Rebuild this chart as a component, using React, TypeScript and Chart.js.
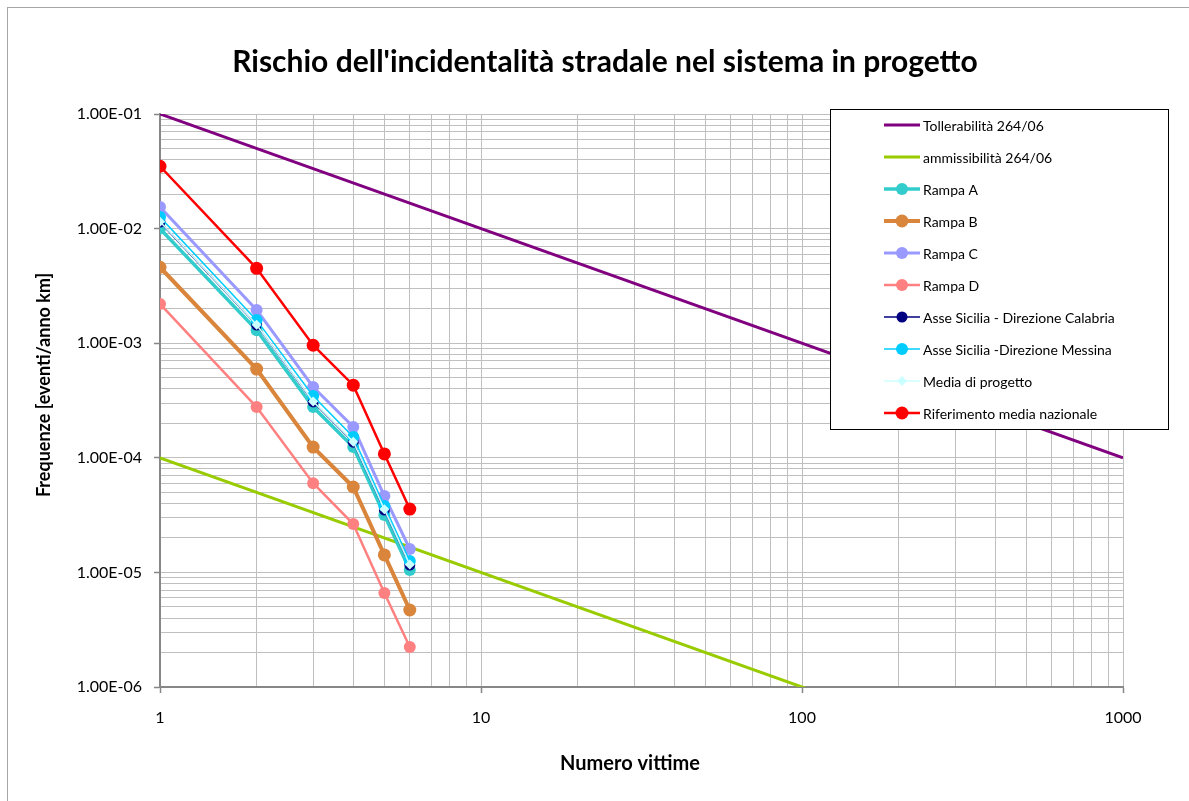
import React, { useEffect, useRef } from 'react';
import { Chart, registerables } from 'chart.js';

Chart.register(...registerables);

// ---------- data ----------
const victims = [1, 2, 3, 4, 5, 6];
const limitX = [1, 1000];
const tollerabilita = [1e-1, 1e-4];
const ammissibilita = [1e-4, 1e-7];
const rampaA = [1.0e-2, 1.3e-3, 2.77e-4, 1.24e-4, 3.17e-5, 1.05e-5];
const rampaB = [4.6e-3, 5.95e-4, 1.24e-4, 5.56e-5, 1.42e-5, 4.7e-6];
const rampaC = [1.54e-2, 1.95e-3, 4.15e-4, 1.86e-4, 4.64e-5, 1.6e-5];
const rampaD = [2.2e-3, 2.77e-4, 6.0e-5, 2.64e-5, 6.6e-6, 2.23e-6];
const asseCalabria = [1.14e-2, 1.44e-3, 3.07e-4, 1.37e-4, 3.5e-5, 1.16e-5];
const asseMessina = [1.26e-2, 1.59e-3, 3.46e-4, 1.52e-4, 3.8e-5, 1.26e-5];
const mediaProgetto = [1.15e-2, 1.45e-3, 3.1e-4, 1.38e-4, 3.55e-5, 1.17e-5];
const mediaNazionale = [3.5e-2, 4.5e-3, 9.6e-4, 4.3e-4, 1.08e-4, 3.57e-5];

const xDecades = [1, 10, 100, 1000];
const yDecades = [1e-6, 1e-5, 1e-4, 1e-3, 1e-2, 1e-1];
const minorSteps = [1, 2, 3, 4, 5, 6, 7, 8, 9];

const chartTitle = "Rischio dell'incidentalità stradale nel sistema in progetto";
const xTitle = 'Numero vittime';
const yTitle = 'Frequenze [eventi/anno km]';

const FONT = 'Lato, "Open Sans", sans-serif';

type Series = {
  label: string;
  xs: number[];
  ys: number[];
  color: string;
  width: number;
  radius: number;
  pointStyle: string;
};

const series: Series[] = [
  { label: 'Tollerabilità 264/06', xs: limitX, ys: tollerabilita, color: '#800080', width: 3, radius: 0, pointStyle: 'circle' },
  { label: 'ammissibilità 264/06', xs: limitX, ys: ammissibilita, color: '#99CC00', width: 3, radius: 0, pointStyle: 'circle' },
  { label: 'Rampa A', xs: victims, ys: rampaA, color: '#33CCCC', width: 3.5, radius: 6, pointStyle: 'circle' },
  { label: 'Rampa B', xs: victims, ys: rampaB, color: '#D9853B', width: 4, radius: 6.5, pointStyle: 'circle' },
  { label: 'Rampa C', xs: victims, ys: rampaC, color: '#9999FF', width: 3, radius: 6, pointStyle: 'circle' },
  { label: 'Rampa D', xs: victims, ys: rampaD, color: '#FF8080', width: 2.5, radius: 6, pointStyle: 'circle' },
  { label: 'Asse Sicilia - Direzione Calabria', xs: victims, ys: asseCalabria, color: '#000080', width: 1.5, radius: 5.5, pointStyle: 'circle' },
  { label: 'Asse Sicilia -Direzione Messina', xs: victims, ys: asseMessina, color: '#00CCFF', width: 1.5, radius: 6, pointStyle: 'circle' },
  { label: 'Media di progetto', xs: victims, ys: mediaProgetto, color: '#CCFFFF', width: 1.5, radius: 5, pointStyle: 'rectRot' },
  { label: 'Riferimento media nazionale', xs: victims, ys: mediaNazionale, color: '#FF0000', width: 2.5, radius: 6.5, pointStyle: 'circle' },
];

const isDecade = (v: number) => Math.abs(Math.log10(v) - Math.round(Math.log10(v))) < 1e-9;
const expLabel = (v: number) => {
  const e = Math.round(Math.log10(v));
  return `1.00E${e < 0 ? '-' : '+'}${String(Math.abs(e)).padStart(2, '0')}`;
};
const buildTicks = (decades: number[]) => {
  const out: number[] = [];
  decades.forEach((d, i) => {
    if (i === decades.length - 1) {
      out.push(d);
    } else {
      minorSteps.forEach((m) => out.push(Number((m * d).toPrecision(10))));
    }
  });
  return out;
};
const xTickValues = buildTicks(xDecades);
const yTickValues = buildTicks(yDecades);

function drawMarker(ctx: CanvasRenderingContext2D, s: Series, x: number, y: number) {
  if (s.radius <= 0) return;
  ctx.fillStyle = s.color;
  ctx.beginPath();
  if (s.pointStyle === 'rectRot') {
    ctx.moveTo(x, y - s.radius);
    ctx.lineTo(x + s.radius, y);
    ctx.lineTo(x, y + s.radius);
    ctx.lineTo(x - s.radius, y);
    ctx.closePath();
  } else {
    ctx.arc(x, y, s.radius, 0, Math.PI * 2);
  }
  ctx.fill();
}

const overlayPlugin = {
  id: 'overlay',
  beforeDraw(chart: any) {
    const ctx = chart.ctx as CanvasRenderingContext2D;
    ctx.save();
    ctx.fillStyle = '#FFFFFF';
    ctx.fillRect(0, 0, chart.width, chart.height);
    ctx.restore();
  },
  afterDraw(chart: any) {
    const ctx = chart.ctx as CanvasRenderingContext2D;
    ctx.save();
    // outer frame
    ctx.strokeStyle = '#A6A6A6';
    ctx.lineWidth = 1;
    ctx.strokeRect(7.5, 7.5, chart.width + 20, chart.height + 20);

    // title
    ctx.fillStyle = '#000000';
    ctx.textAlign = 'center';
    ctx.textBaseline = 'middle';
    ctx.font = `bold 30px ${FONT}`;
    ctx.fillText(chartTitle, 605, 62);

    // x title
    ctx.font = `bold 20px ${FONT}`;
    ctx.fillText(xTitle, 630, 764);

    // y title
    ctx.font = `bold 18px ${FONT}`;
    ctx.save();
    ctx.translate(44, 385);
    ctx.rotate(-Math.PI / 2);
    ctx.fillText(yTitle, 0, 0);
    ctx.restore();

    // legend
    const lx = 830.5, ly = 109.5, lw = 338, lh = 320;
    ctx.fillStyle = '#FFFFFF';
    ctx.fillRect(lx, ly, lw, lh);
    ctx.strokeStyle = '#000000';
    ctx.lineWidth = 1;
    ctx.strokeRect(lx, ly, lw, lh);
    ctx.font = `14px ${FONT}`;
    ctx.textAlign = 'left';
    ctx.textBaseline = 'middle';
    series.forEach((s, i) => {
      const cy = 125 + 32 * i;
      ctx.strokeStyle = s.color;
      ctx.lineWidth = s.width;
      ctx.beginPath();
      ctx.moveTo(884, cy);
      ctx.lineTo(920, cy);
      ctx.stroke();
      drawMarker(ctx, s, 902, cy);
      ctx.fillStyle = '#000000';
      ctx.fillText(s.label, 923, cy + 1);
    });
    ctx.restore();
  },
};

export default function App() {
  const canvasRef = useRef<HTMLCanvasElement | null>(null);

  useEffect(() => {
    const canvas = canvasRef.current;
    if (!canvas) return;
    const n = series.length;
    const chart = new Chart(canvas, {
      type: 'line',
      data: {
        datasets: series.map((s, i) => ({
          label: s.label,
          data: s.xs.map((x, j) => ({ x, y: s.ys[j] })),
          borderColor: s.color,
          backgroundColor: s.color,
          borderWidth: s.width,
          pointRadius: s.radius,
          pointHoverRadius: s.radius,
          pointStyle: s.pointStyle as any,
          pointBackgroundColor: s.color,
          pointBorderColor: s.color,
          pointBorderWidth: 0,
          tension: 0,
          fill: false,
          order: n - i,
          clip: s.radius === 0 ? 0 : undefined,
        })) as any,
      },
      options: {
        animation: false,
        responsive: false,
        maintainAspectRatio: false,
        events: [],
        layout: { padding: { top: 114, right: 66, left: 0, bottom: 0 } },
        plugins: {
          legend: { display: false },
          title: { display: false },
          tooltip: { enabled: false },
        },
        scales: {
          x: {
            type: 'logarithmic',
            min: 1,
            max: 1000,
            afterBuildTicks: (s: any) => {
              s.ticks = xTickValues.map((v) => ({ value: v }));
            },
            afterFit: (s: any) => {
              s.height = 114;
            },
            ticks: {
              autoSkip: false,
              maxRotation: 0,
              padding: 15,
              color: '#000000',
              font: { family: FONT, size: 16 },
              callback: (v: any) => (isDecade(Number(v)) ? String(Number(v)) : ''),
            },
            grid: {
              color: '#BFBFBF',
              lineWidth: 1,
              tickLength: 6,
              tickWidth: 1.5,
              tickColor: (c: any) => (c.tick && isDecade(c.tick.value) ? '#878787' : 'rgba(0,0,0,0)'),
            },
            border: { color: '#878787', width: 2 },
          },
          y: {
            type: 'logarithmic',
            min: 1e-6,
            max: 1e-1,
            afterBuildTicks: (s: any) => {
              s.ticks = yTickValues.map((v) => ({ value: v }));
            },
            afterFit: (s: any) => {
              s.width = 160;
            },
            ticks: {
              autoSkip: false,
              padding: 12,
              color: '#000000',
              font: { family: FONT, size: 16 },
              callback: (v: any) => (isDecade(Number(v)) ? expLabel(Number(v)) : ''),
            },
            grid: {
              color: '#BFBFBF',
              lineWidth: 1,
              tickLength: 6,
              tickWidth: 1.5,
              tickColor: (c: any) => (c.tick && isDecade(c.tick.value) ? '#878787' : 'rgba(0,0,0,0)'),
            },
            border: { color: '#878787', width: 2 },
          },
        },
      } as any,
      plugins: [overlayPlugin],
    });
    return () => chart.destroy();
  }, []);

  return (
    <div style={{ position: 'fixed', left: 0, top: 0, width: 1189, height: 801, background: '#fff' }}>
      <canvas ref={canvasRef} width={1189} height={801} style={{ display: 'block' }} />
    </div>
  );
}
